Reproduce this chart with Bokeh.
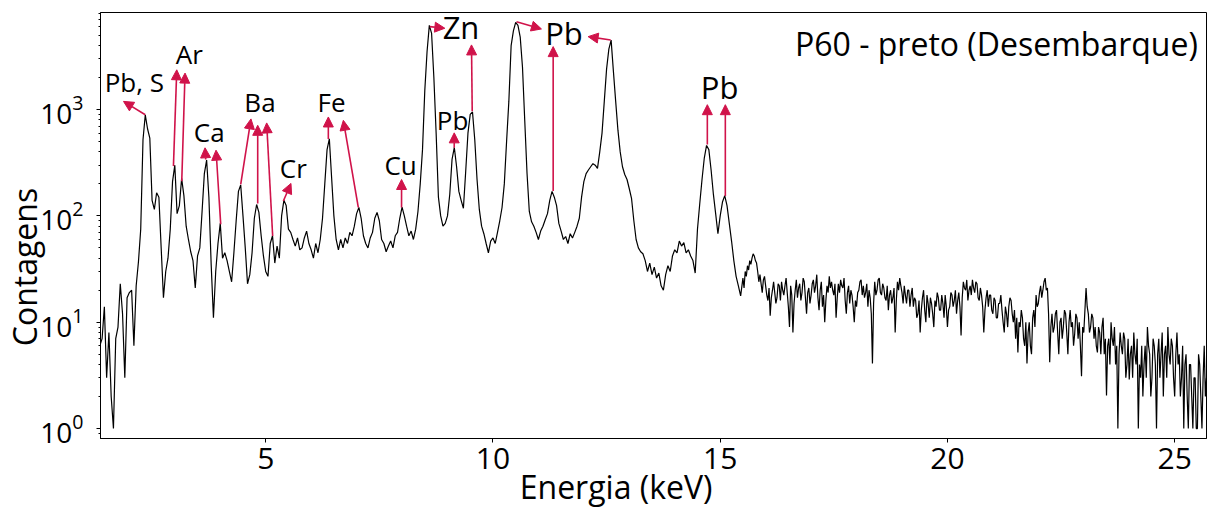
import numpy as np
from bokeh.plotting import figure
from bokeh.models import Range1d, FixedTicker, Label, Arrow, NormalHead, ColumnDataSource
from bokeh.embed import file_html
from bokeh.resources import INLINE

FONT = "Open Sans"
RED = "#d0134a"
NBSP = "\u00a0"

# ---------------- data ----------------
# peak region: read every 0.05 keV from 1.35 keV
LOW_START, LOW_STEP = 1.35, 0.05
counts_low = [
    6, 7, 14, 3, 8, 2, 1, 7, 9, 23, 12, 3, 17, 19, 20, 6, 22, 37, 75, 520,
    890, 660, 540, 140, 115, 165, 150, 50, 17, 30, 40, 75, 210, 300, 105, 125, 225, 155, 80, 60,
    46, 38, 21, 42, 50, 110, 250, 335, 150, 35, 11, 30, 55, 85, 40, 45, 38, 30, 24, 45,
    90, 170, 195, 100, 50, 23, 28, 45, 95, 128, 108, 65, 42, 30, 27, 55, 65, 36, 52, 40,
    100, 140, 125, 75, 70, 60, 52, 62, 48, 50, 62, 72, 55, 48, 40, 55, 45, 60, 95, 200,
    420, 530, 230, 100, 60, 48, 60, 50, 62, 55, 70, 65, 80, 105, 120, 95, 65, 55, 50, 62,
    70, 95, 108, 90, 60, 55, 46, 52, 58, 50, 65, 70, 95, 121, 100, 80, 65, 72, 60, 75,
    110, 200, 420, 1500, 3500, 6200, 5200, 2000, 600, 150, 100, 80, 85, 100, 160, 340, 440, 290, 170, 140,
    118, 260, 600, 900, 950, 520, 220, 115, 80, 68, 55, 45, 58, 62, 55, 70, 90, 120, 200, 500,
    1200, 4000, 5500, 6600, 6200, 4800, 2500, 780, 250, 110, 88, 80, 70, 60, 72, 80, 92, 105, 140, 170,
    150, 125, 85, 72, 60, 64, 55, 68, 62, 70, 80, 95, 150, 210, 250, 270, 290, 310, 300, 280,
    400, 600, 1200, 2400, 3700, 4500, 2300, 1200, 640, 400, 290, 245, 220, 180, 145, 90, 60, 50, 46, 44,
    38, 30, 36, 28, 33, 26, 29, 22, 20, 28, 34, 30, 42, 48, 45, 58, 52, 56, 45, 48,
    42, 38, 29, 75, 130, 220, 350, 460, 420, 270, 160, 105, 68, 100, 135, 155, 125, 85, 58, 38,
    27, 22, 17.7,
]
# noisy background: read every 0.025 keV from 15.50 keV
HIGH_START, HIGH_STEP = 15.50, 0.025
counts_high = [
    26, 21, 30, 27, 34, 31, 38, 35, 40, 44, 42, 38, 36, 30, 24, 28, 23, 19, 25, 27,
    22, 18, 16, 21, 11.5, 17, 20, 24, 19, 15, 17, 23, 22, 16, 24, 20, 18, 22, 26, 19,
    14, 9, 22, 18, 8, 15, 20, 25, 17, 21, 23, 16, 19, 26, 24, 17, 12, 19, 21, 15,
    18, 23, 25, 19, 22, 28, 17, 13, 20, 24, 14, 18, 10, 16, 22, 19, 27, 21, 24, 20,
    18, 23, 11, 17, 23, 19, 25, 22, 21, 26, 16, 12, 19, 22, 15, 20, 18, 14, 10, 16,
    14, 19, 20, 24, 25, 18, 22, 17, 19, 23, 14, 20, 17, 12, 4.1, 15, 24, 18, 20, 25,
    26, 19, 18, 23, 21, 17, 16, 22, 13, 18, 20, 15, 17, 21, 8, 16, 24, 20, 26, 22,
    19, 15, 22, 18, 15, 20, 20, 14, 18, 21, 14, 17, 16, 11, 12, 16, 8, 13, 17, 20,
    13, 10, 18, 15, 11, 17, 15, 12, 9, 16, 14, 19, 17, 13, 13, 18, 15, 11, 18, 14,
    9, 13, 14, 19, 18, 14, 16, 20, 12, 16, 19, 14, 7.5, 17, 24, 21, 20, 25, 16, 20,
    22, 18, 25, 21, 19, 24, 23, 17, 16, 21, 18, 14, 8, 13, 17, 20, 14, 18, 18, 13,
    12, 17, 16, 11, 11, 15, 15, 18, 13, 10, 8, 14, 12, 9, 14, 17, 16, 12, 10, 13,
    7, 11, 5.2, 10, 9, 13, 11, 7, 6, 10, 4.1, 8, 10, 6, 5, 11, 13, 9, 18, 14,
    15, 19, 22, 17, 20, 24, 26, 20, 21, 12, 4.2, 9, 12, 8, 9, 12, 13, 8, 5, 10,
    11, 7, 9, 13, 12, 8, 5, 10, 13, 9, 10, 6, 7.8, 12, 11, 7, 10, 6, 3.1, 9,
    8, 13, 21, 14, 12, 8, 9, 12, 11, 7, 9, 6, 5.2, 9, 8, 5, 9, 11, 5, 7,
    2.05, 6, 7, 4, 10, 7, 6, 9, 4, 6, 1, 5, 8, 6, 5, 8, 7, 3, 4, 7,
    2.9, 5, 6, 3, 8, 5, 4, 7, 1, 4, 3, 6, 2, 4, 6, 3, 9, 6, 5, 2,
    3, 7, 6, 4, 1, 5, 7, 3, 5, 8, 2, 5, 6, 3, 9, 5, 4, 7, 6, 3,
    2, 5, 8, 4, 5, 2, 3, 6, 1, 4, 5, 2, 1, 4, 4, 2, 1, 3, 3, 1,
    1, 5, 4, 2, 1, 3, 6, 2, 3,
]
energy = np.round(np.concatenate([
    LOW_START + LOW_STEP * np.arange(len(counts_low)),
    HIGH_START + HIGH_STEP * np.arange(len(counts_high)),
]), 4)
counts = counts_low + counts_high

x_ticks = [5, 10, 15, 20, 25]

title_text = "P60 - preto (Desembarque)"
x_label = "Energia (keV)"
y_label = "Contagens"

# peak labels
ann_texts = ["Pb, S", "Ar", "Ca", "Ba", "Cr", "Fe", "Cu", "Pb", "Zn", "Pb", "Pb"]
ann_x = [2.108, 3.318, 3.757, 4.874, 5.608, 6.450, 7.967, 9.111, 9.297, 11.562, 14.987]
ann_y = [1432, 2636, 486, 929, 220, 929, 237, 634, 4690, 4100, 1285]
ann_big = [False, False, False, False, False, False, False, False, True, True, True]

# arrows: from the peak (tail) towards the label (head)
arr_x0 = [2.35, 2.970, 3.153, 3.680, 4.010, 4.450, 4.824, 5.153, 5.389, 6.378, 7.037,
          7.989, 9.148, 8.612, 9.544, 10.518, 11.325, 12.591, 14.717, 15.113]
arr_y0 = [895, 294, 212, 339, 83.4, 198, 131, 64.8, 138, 530, 120,
          120, 437, 6026, 962, 6710, 171, 4520, 469, 154]
arr_x1 = [1.871, 3.043, 3.225, 3.665, 3.907, 4.676, 4.824, 5.021, 5.556, 6.378, 6.708,
          7.989, 9.148, 8.941, 9.528, 11.067, 11.325, 12.094, 14.717, 15.113]
arr_y1 = [1194, 2366, 2203, 437, 415, 817, 711, 749, 202, 852, 792,
          220, 604, 5820, 4057, 5730, 3910, 4853, 1112, 1112]

# ---------------- figure ----------------
X_LO, X_HI = 1.365, 25.70
Y_LO, Y_HI = 0.806, 8185

p = figure(width=1209, height=510, output_backend="svg", toolbar_location=None,
           x_range=Range1d(X_LO, X_HI), y_range=Range1d(Y_LO, Y_HI),
           y_axis_type="log",
           min_border_left=99, min_border_right=3, min_border_top=12, min_border_bottom=70)
p.background_fill_color = "white"
p.border_fill_color = "white"
p.xgrid.visible = False
p.ygrid.visible = False
p.outline_line_color = "black"
p.outline_line_width = 1
p.outline_line_alpha = 1

for ax in (p.xaxis[0], p.yaxis[0]):
    ax.axis_line_color = "black"
    ax.axis_line_width = 1
    ax.major_tick_line_color = "black"
    ax.major_tick_line_width = 1
    ax.major_tick_in = 0
    ax.major_tick_out = 4
    ax.minor_tick_in = 0
    ax.minor_tick_out = 2
    ax.minor_tick_line_color = "black"
    ax.major_label_text_font = FONT
    ax.major_label_text_color = "black"
    ax.axis_label_text_font = FONT
    ax.axis_label_text_font_size = "32px"
    ax.axis_label_text_font_style = "normal"
    ax.axis_label_text_color = "black"

p.xaxis.ticker = FixedTicker(ticks=x_ticks)
p.xaxis.minor_tick_line_color = None
p.xaxis.major_label_text_font_size = "30px"
p.xaxis.major_label_standoff = 5
# trailing non-breaking spaces shift the visible title off-centre like the reference
p.xaxis.axis_label = x_label + NBSP * 9
p.xaxis.axis_label_standoff = -7

p.yaxis.ticker.num_minor_ticks = 10
p.yaxis.major_label_text_font_size = "28px"
p.yaxis.major_label_standoff = 13
p.yaxis.axis_label = y_label + NBSP * 10
p.yaxis.axis_label_standoff = -9

p.line(energy, counts, line_color="black", line_width=1.2)

src = ColumnDataSource(dict(x0=arr_x0, y0=arr_y0, x1=arr_x1, y1=arr_y1))
p.add_layout(Arrow(end=NormalHead(size=10, fill_color=RED, line_color=RED, line_width=1),
                   x_start="x0", y_start="y0", x_end="x1", y_end="y1", source=src,
                   line_color=RED, line_width=1.6))

for t, x, y, big in zip(ann_texts, ann_x, ann_y, ann_big):
    p.add_layout(Label(x=x, y=y, text=t, text_font=FONT, y_offset=11,
                       text_font_size="31px" if big else "26px",
                       text_align="center", text_baseline="alphabetic", text_color="black"))

p.add_layout(Label(x=25.51, y=3200, y_offset=12, text=title_text, text_font=FONT,
                   text_font_size="32px", text_align="right", text_baseline="alphabetic",
                   text_color="black"))

open("out.html", "w").write(file_html(p, INLINE))
